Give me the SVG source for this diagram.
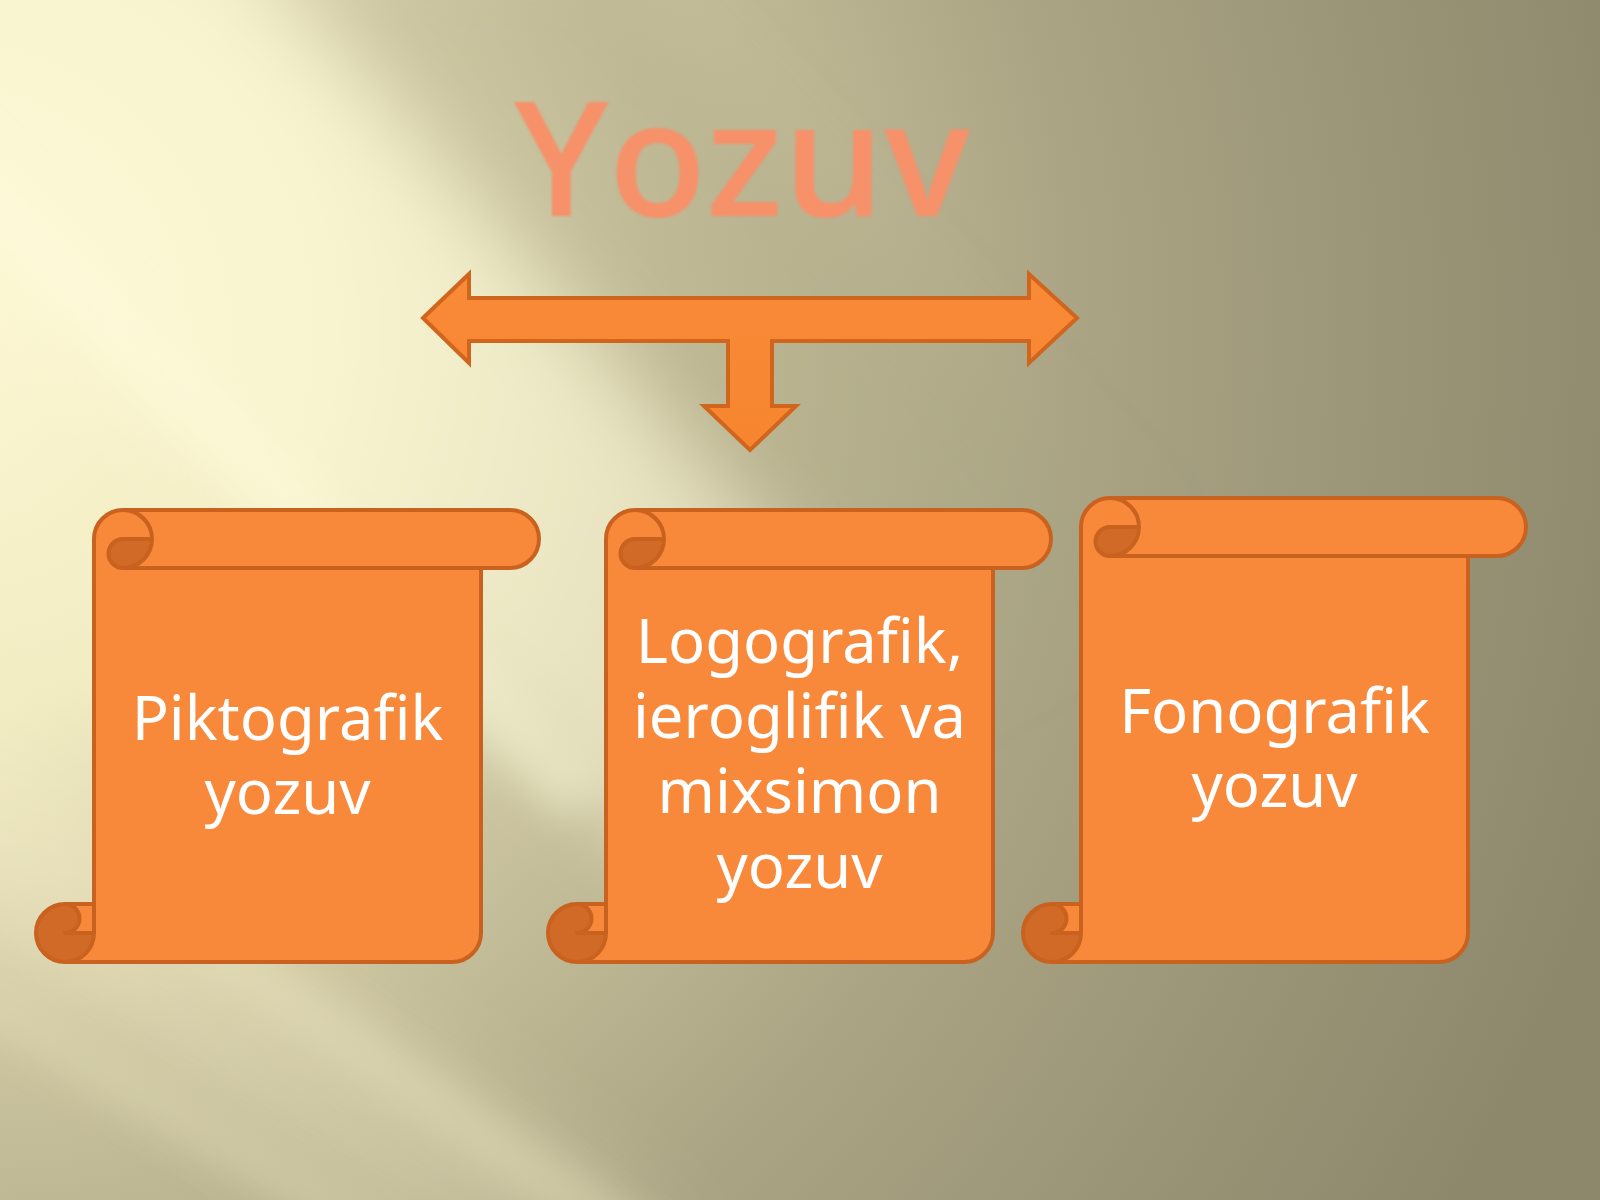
<svg xmlns="http://www.w3.org/2000/svg" xmlns:xlink="http://www.w3.org/1999/xlink" width="1600" height="1200" viewBox="0 0 1600 1200">
  <defs>
    <radialGradient id="bgBase" gradientUnits="userSpaceOnUse" cx="-60" cy="330" r="1750">
      <stop offset="0" stop-color="#FCF7D2"/>
      <stop offset="0.22" stop-color="#F2ECC3"/>
      <stop offset="0.42" stop-color="#CAC39E"/>
      <stop offset="0.65" stop-color="#AAA484"/>
      <stop offset="1" stop-color="#8D876C"/>
    </radialGradient>
    <filter id="blurBig" x="-30%" y="-30%" width="160%" height="160%">
      <feGaussianBlur stdDeviation="40"/>
    </filter>
    <filter id="blurMid" x="-30%" y="-30%" width="160%" height="160%">
      <feGaussianBlur stdDeviation="18"/>
    </filter>
    <filter id="soft" x="-5%" y="-5%" width="110%" height="110%">
      <feGaussianBlur stdDeviation="0.8"/>
    </filter>
    <linearGradient id="arrowFill" x1="0" y1="0" x2="0" y2="1">
      <stop offset="0" stop-color="#F98A38"/>
      <stop offset="1" stop-color="#F7852F"/>
    </linearGradient>
    <path id="scrollFillA" d="M29,452 A29,29 0 0 0 58,423 L29,423 A14.5,14.5 0 0 0 29,394 L58,394 L58,29 A29,29 0 0 1 87,0 L474,0 A29,29 0 0 1 474,58 L445,58 L445,423 A29,29 0 0 1 416,452 Z"/>
    <path id="scrollDarkA" d="M116,29 A29,29 0 0 1 87,58 A14.5,14.5 0 0 1 87,29 Z M58,423 A29,29 0 1 1 29,394 A14.5,14.5 0 0 1 29,423 Z"/>
    <path id="scrollLineA" d="M58,394 L58,29 A29,29 0 0 1 87,0 L474,0 A29,29 0 0 1 474,58 L445,58 L445,423 A29,29 0 0 1 416,452 L29,452 A29,29 0 0 1 29,394 Z M87,0 A29,29 0 0 1 87,58 A14.5,14.5 0 0 1 87,29 L116,29 M445,58 L87,58 M29,394 A14.5,14.5 0 0 1 29,423 L58,423 M29,452 A29,29 0 0 0 58,423 L58,394"/>
    <path id="scrollFillB" d="M29,464 A29,29 0 0 0 58,435 L29,435 A14.5,14.5 0 0 0 29,406 L58,406 L58,29 A29,29 0 0 1 87,0 L474,0 A29,29 0 0 1 474,58 L445,58 L445,435 A29,29 0 0 1 416,464 Z"/>
    <path id="scrollDarkB" d="M116,29 A29,29 0 0 1 87,58 A14.5,14.5 0 0 1 87,29 Z M58,435 A29,29 0 1 1 29,406 A14.5,14.5 0 0 1 29,435 Z"/>
    <path id="scrollLineB" d="M58,406 L58,29 A29,29 0 0 1 87,0 L474,0 A29,29 0 0 1 474,58 L445,58 L445,435 A29,29 0 0 1 416,464 L29,464 A29,29 0 0 1 29,406 Z M87,0 A29,29 0 0 1 87,58 A14.5,14.5 0 0 1 87,29 L116,29 M445,58 L87,58 M29,406 A14.5,14.5 0 0 1 29,435 L58,435 M29,464 A29,29 0 0 0 58,435 L58,406"/>
  </defs>
  <style>
    .sfill { fill: #F9893A; stroke: none; }
    .sdark { fill: #D16A26; stroke: none; }
    .sline { fill: none; stroke: #C9621F; stroke-width: 4; stroke-linejoin: round; stroke-linecap: round; }
    .label { font-family: "Noto Sans", "Open Sans", "DejaVu Sans", sans-serif; font-size: 61.5px; fill: #FFFFFF; text-anchor: middle; }
    .title { font-family: "Open Sans", "Noto Sans", "DejaVu Sans", sans-serif; font-weight: 600; font-size: 160px; fill: #F6916B; text-anchor: middle; }
    .arrow { fill: url(#arrowFill); stroke: #D0661E; stroke-width: 4; stroke-linejoin: miter; }
  </style>

  <!-- background -->
  <g id="background">
    <rect x="0" y="0" width="1600" height="1200" fill="url(#bgBase)"/>
    <g filter="url(#blurBig)">
      <polygon points="-200,120 -200,-200 120,-200 900,700 700,900" fill="#FFFBDA" opacity="0.55"/>
      <polygon points="240,-50 600,-50 1150,560 900,700" fill="#A9A385" opacity="0.35"/>
      <polygon points="-200,800 -200,600 700,1250 400,1250" fill="#FFF8D2" opacity="0.25"/>
    </g>
    <g filter="url(#blurMid)">
      <polygon points="-100,150 -100,60 600,780 560,820" fill="#FFFBE0" opacity="0.35"/>
      <polygon points="150,930 190,900 700,1260 620,1260" fill="#EEE7C2" opacity="0.35"/>
      <polygon points="-50,1010 -10,980 450,1260 380,1260" fill="#EAE3BD" opacity="0.3"/>
    </g>
  </g>

  <!-- title -->
  <g id="title">
    <text class="title" x="742" y="216" filter="url(#soft)">Yozuv</text>
  </g>

  <!-- connector: three-way arrow -->
  <g id="connectors">
    <path class="arrow" d="M423,318 L469,274 L469,298 L1029,298 L1029,274 L1077,318 L1029,363 L1029,341 L772,341 L772,406 L796,406 L750,450 L704,406 L728,406 L728,341 L469,341 L469,363 Z"/>
  </g>

  <!-- node 1 -->
  <g id="node-piktografik" transform="translate(36,510)">
    <use xlink:href="#scrollFillA" href="#scrollFillA" class="sfill"/>
    <use xlink:href="#scrollDarkA" href="#scrollDarkA" class="sdark"/>
    <use xlink:href="#scrollLineA" href="#scrollLineA" class="sline"/>
    <text class="label" x="251.5" y="230">Piktografik</text>
    <text class="label" x="251.5" y="304">yozuv</text>
  </g>

  <!-- node 2 -->
  <g id="node-logografik" transform="translate(548,510)">
    <use xlink:href="#scrollFillA" href="#scrollFillA" class="sfill"/>
    <use xlink:href="#scrollDarkA" href="#scrollDarkA" class="sdark"/>
    <use xlink:href="#scrollLineA" href="#scrollLineA" class="sline"/>
    <text class="label" x="251.5" y="153">Logografik,</text>
    <text class="label" x="251.5" y="228">ieroglifik va</text>
    <text class="label" x="251.5" y="303">mixsimon</text>
    <text class="label" x="251.5" y="378">yozuv</text>
  </g>

  <!-- node 3 -->
  <g id="node-fonografik" transform="translate(1023,498)">
    <use xlink:href="#scrollFillB" href="#scrollFillB" class="sfill"/>
    <use xlink:href="#scrollDarkB" href="#scrollDarkB" class="sdark"/>
    <use xlink:href="#scrollLineB" href="#scrollLineB" class="sline"/>
    <text class="label" x="251.5" y="235">Fonografik</text>
    <text class="label" x="251.5" y="309">yozuv</text>
  </g>
</svg>
